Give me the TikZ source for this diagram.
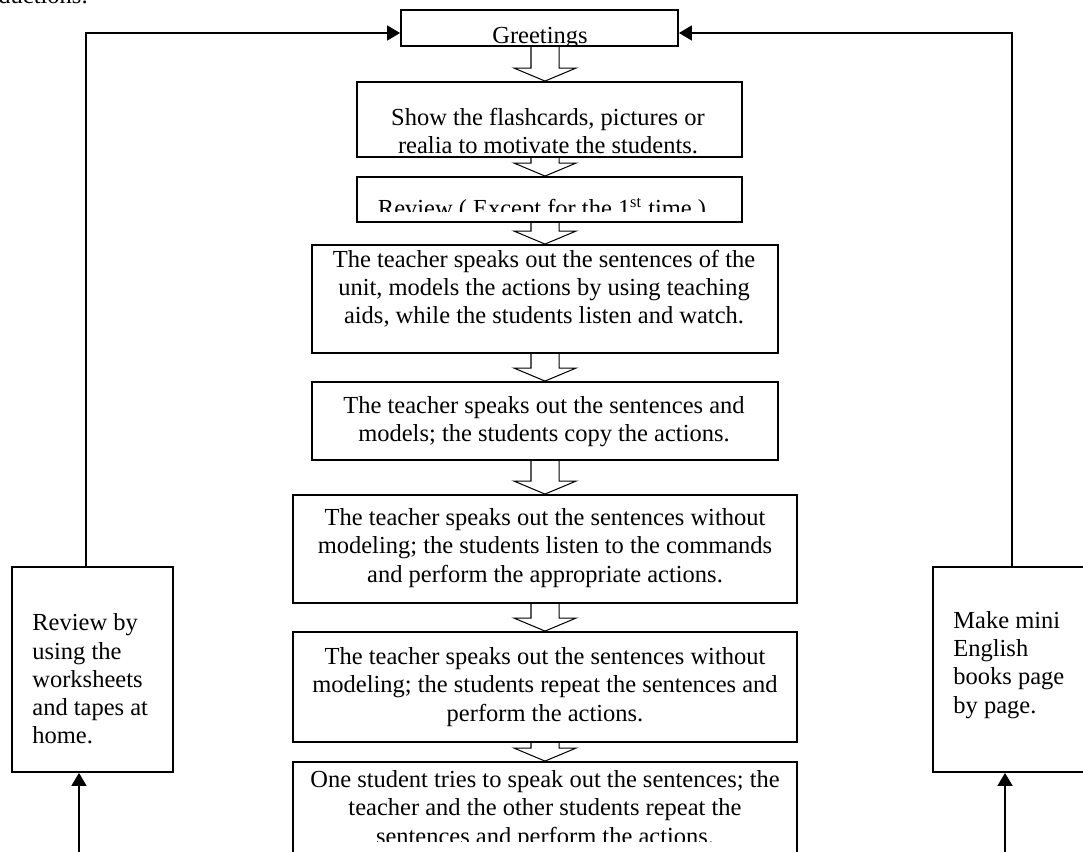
\documentclass[tikz,border=0pt]{standalone}
\usepackage{fontspec}
\setmainfont{Liberation Serif}
\usepackage{tikz}
\usetikzlibrary{calc,fit,arrows.meta}

% one pixel of the page
\newcommand{\pxu}{0.49pt}

% hollow block arrow between two steps
\newcommand{\flowarrow}[2]{%
  \draw[hollow] ($(#1.south -| axis)+(-14,0)$) -- ($(#2.north -| axis)+(-14,-13)$)
    -- ++(-17,0) -- (#2.north -| axis) -- ++(31,-13) -- ++(-17,0)
    -- ($(#1.south -| axis)+(14,0)$);}

\tikzset{
  stepbox/.style={draw, line width=0.9pt, fill=white, inner sep=0pt},
  steptext/.style={align=center, inner sep=0pt, font=\fontsize{12pt}{13.8pt}\selectfont},
  sidetext/.style={align=left, anchor=west, inner sep=0pt, font=\fontsize{12pt}{13.8pt}\selectfont},
  hollow/.style={line width=0.5pt, line join=miter},
  loopline/.style={line width=0.7pt, line join=miter, -{Triangle[length=6.4pt,width=7.4pt]}}
}

\begin{document}
\begin{tikzpicture}[x=\pxu, y=-\pxu]
\useasboundingbox (0,0) rectangle (1083,852);
\clip (0,0) rectangle (1083,852);
\coordinate (axis) at (545,0);

% line above the chart
\node[steptext, anchor=base west] (heading) at (-2,4) {ductions:};

% steps
\node[stepbox, fit={(401,10) (678,46)}] (greet) {};
\node[stepbox, fit={(357,82) (742,157)}] (show) {};
\node[stepbox, fit={(357,177) (742,222)}] (review) {};
\node[stepbox, fit={(312,245) (778,353)}] (model) {};
\node[stepbox, fit={(312,382) (778,460)}] (copy) {};
\node[stepbox, fit={(293,495) (797,603)}] (listen) {};
\node[stepbox, fit={(293,632) (797,742)}] (repeat) {};
\node[stepbox, fit={(293,762) (797,860)}] (solo) {};

% side boxes
\node[stepbox, fit={(12,567) (173,772)}] (revhome) {};
\node[stepbox, fit={(933,567) (1095,772)}] (books) {};

% texts
\begin{scope}
  \clip (greet.north west) rectangle (greet.south east);
  \node[steptext] (greettxt) at (540,38.5) {Greetings};
\end{scope}
\node[steptext] (showtxt) at (548,131) {Show the flashcards, pictures or\\realia to motivate the students.};
\begin{scope}
  \clip (357,177) rectangle (742,212);
  \node[steptext] (reviewtxt) at (542,210) {Review ( Except for the 1\textsuperscript{st} time )};
\end{scope}
\node[steptext] (modeltxt) at (544,289) {The teacher speaks out the sentences of the\\unit, models the actions by using teaching\\aids, while the students listen and watch.};
\node[steptext] (copytxt) at (544,422) {The teacher speaks out the sentences and\\models; the students copy the actions.};
\node[steptext] (listentxt) at (545,548) {The teacher speaks out the sentences without\\modeling; the students listen to the commands\\and perform the appropriate actions.};
\node[steptext] (repeattxt) at (545,687) {The teacher speaks out the sentences without\\modeling; the students repeat the sentences and\\perform the actions.};
\begin{scope}
  \clip (293,762) rectangle (797,841);
  \node[steptext] (solotxt) at (545,810) {One student tries to speak out the sentences; the\\teacher and the other students repeat the\\sentences and perform the actions.};
\end{scope}
\node[sidetext] (revhometxt) at (32,679) {Review by\\using the\\worksheets\\and tapes at\\home.};
\node[sidetext] (bookstxt) at (953,665) {Make mini\\English\\books page\\by page.};

% block arrows
\flowarrow{greet}{show}
\flowarrow{show}{review}
\flowarrow{review}{model}
\flowarrow{model}{copy}
\flowarrow{copy}{listen}
\flowarrow{listen}{repeat}
\flowarrow{repeat}{solo}

% back to the greetings
\coordinate (lcorner) at (86,33);
\coordinate (rcorner) at (1012,33);
\draw[loopline] (revhome.north -| lcorner) -- (lcorner) -- (lcorner -| greet.west);
\draw[loopline] (books.north -| rcorner) -- (rcorner) -- (rcorner -| greet.east);

% from below
\coordinate (lfoot) at (79,860);
\coordinate (rfoot) at (1005,860);
\draw[loopline] (lfoot) -- (lfoot |- revhome.south);
\draw[loopline] (rfoot) -- (rfoot |- books.south);
\end{tikzpicture}
\end{document}
